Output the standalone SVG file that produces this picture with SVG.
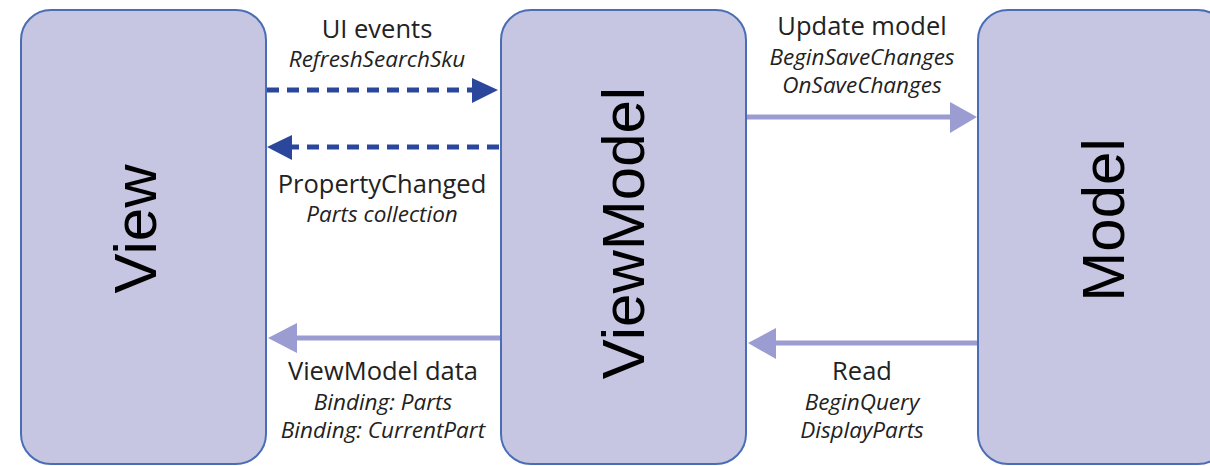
<svg xmlns="http://www.w3.org/2000/svg" width="1210" height="466" viewBox="0 0 1210 466">
  <defs>
    <style>
      .box { fill: #C6C6E3; stroke: #4A6DB5; stroke-width: 2; }
      .big { font-family: "Liberation Sans", Arial, sans-serif; font-size: 60px; fill: #000; text-anchor: middle; }
      .lbl { font-family: "Open Sans", "Liberation Sans", sans-serif; font-size: 25.5px; fill: #222; text-anchor: middle; }
      .it { font-family: "Open Sans", "Liberation Sans", sans-serif; font-size: 22.5px; font-style: italic; fill: #222; text-anchor: middle; }
      .dash { stroke: #2A479C; stroke-width: 5; stroke-dasharray: 12 8; fill: none; }
      .solid { stroke: #9B9CD2; stroke-width: 5; fill: none; }
    </style>
  </defs>
  <rect width="1210" height="466" fill="#FFFFFF"/>

  <g id="node-view">
    <rect class="box" x="21" y="10" width="245" height="454" rx="30" ry="30"/>
    <text class="big" transform="translate(156,229) rotate(-90)">View</text>
  </g>
  <g id="node-viewmodel">
    <rect class="box" x="501" y="10" width="245" height="454" rx="30" ry="30"/>
    <text class="big" transform="translate(644,233) rotate(-90)">ViewModel</text>
  </g>
  <g id="node-model">
    <rect class="box" x="978" y="10" width="250" height="454" rx="30" ry="30"/>
    <text class="big" transform="translate(1124,220) rotate(-90)">Model</text>
  </g>

  <g id="connectors">
    <line class="dash" x1="267" y1="90" x2="472" y2="90"/>
    <polygon points="472,78 498,90 472,103" fill="#2A479C"/>
    <line class="dash" x1="499" y1="147" x2="292" y2="147"/>
    <polygon points="292,135 267,147 292,160" fill="#2A479C"/>
    <line class="solid" x1="747" y1="117" x2="951" y2="117"/>
    <polygon points="950,102 977,117 950,133" fill="#9B9CD2"/>
    <line class="solid" x1="977" y1="343" x2="775" y2="343"/>
    <polygon points="776,328 748,343 776,359" fill="#9B9CD2"/>
    <line class="solid" x1="500" y1="338" x2="296" y2="338"/>
    <polygon points="297,323 268,338 297,353" fill="#9B9CD2"/>
  </g>

  <g id="labels">
    <text class="lbl" x="377" y="38">UI events</text>
    <text class="it" x="377" y="67">RefreshSearchSku</text>
    <text class="lbl" x="382" y="193">PropertyChanged</text>
    <text class="it" x="382" y="222">Parts collection</text>
    <text class="lbl" x="383" y="380">ViewModel data</text>
    <text class="it" x="383" y="410">Binding: Parts</text>
    <text class="it" x="383" y="438">Binding: CurrentPart</text>
    <text class="lbl" x="862" y="35">Update model</text>
    <text class="it" x="862" y="65">BeginSaveChanges</text>
    <text class="it" x="862" y="93">OnSaveChanges</text>
    <text class="lbl" x="862" y="380">Read</text>
    <text class="it" x="862" y="410">BeginQuery</text>
    <text class="it" x="862" y="438">DisplayParts</text>
  </g>
</svg>
